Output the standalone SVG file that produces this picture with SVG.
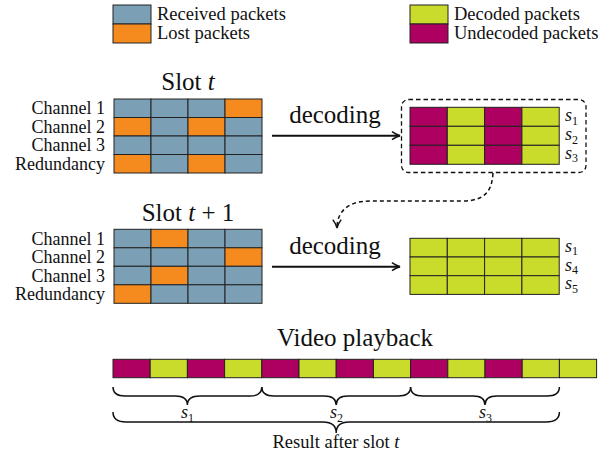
<svg xmlns="http://www.w3.org/2000/svg" width="608" height="455" viewBox="0 0 608 455">
  <style>
    text { fill: #111; }
    .lbl { font-size: 18.5px; }
    .big { font-size: 25px; }
    .ch { font-size: 18px; text-anchor: end; }
    .s { font-size: 18px; font-style: italic; }
    .sub { font-size: 12px; font-style: normal; }
    .it { font-style: italic; }
    .rx { fill: #7ba0b5; }
    .lo { fill: #f58a1f; }
    .de { fill: #cadc2b; }
    .un { fill: #ae0060; }
    .cell { stroke: #222; stroke-width: 1; }
    .arrow { fill: none; stroke: #111; stroke-width: 2; }
    .brace { fill: none; stroke: #111; stroke-width: 1.5; }
  </style>
  <defs>
    <marker id="head" viewBox="0 0 10 10" refX="9" refY="5" markerWidth="5" markerHeight="5" orient="auto" markerUnits="strokeWidth">
      <path d="M1,1 Q5,4 9,5 Q5,6 1,9" fill="none" stroke="#111" stroke-width="1.6"/>
    </marker>
    <marker id="headd" viewBox="0 0 10 10" refX="9" refY="5" markerWidth="7" markerHeight="7" orient="auto" markerUnits="strokeWidth">
      <path d="M1,1 Q5,4 9,5 Q5,6 1,9" fill="none" stroke="#111" stroke-width="1.4"/>
    </marker>
  </defs>

  <g font-family="'Liberation Serif', 'Times New Roman', serif">
  <!-- legend -->
  <g id="legend">
    <rect class="rx cell" x="113" y="5" width="38" height="19"/>
    <rect class="lo cell" x="113" y="24" width="38" height="19"/>
    <text class="lbl" x="157" y="20">Received packets</text>
    <text class="lbl" x="157" y="38.5">Lost packets</text>
    <rect class="de cell" x="410" y="5" width="38" height="19"/>
    <rect class="un cell" x="410" y="24" width="38" height="19"/>
    <text class="lbl" x="454" y="20">Decoded packets</text>
    <text class="lbl" x="454" y="38.5">Undecoded packets</text>
  </g>

  <!-- slot t -->
  <g id="slot-t">
    <text class="big" x="188" y="90" text-anchor="middle">Slot <tspan class="it">t</tspan></text>
    <text class="ch" x="105" y="114">Channel 1</text>
    <text class="ch" x="105" y="132.5">Channel 2</text>
    <text class="ch" x="105" y="151">Channel 3</text>
    <text class="ch" x="105" y="169.5">Redundancy</text>
    <rect class="rx cell" x="114" y="99" width="37" height="18.5"/>
    <rect class="rx cell" x="151" y="99" width="37" height="18.5"/>
    <rect class="rx cell" x="188" y="99" width="37" height="18.5"/>
    <rect class="lo cell" x="225" y="99" width="37" height="18.5"/>
    <rect class="lo cell" x="114" y="117.5" width="37" height="18.5"/>
    <rect class="rx cell" x="151" y="117.5" width="37" height="18.5"/>
    <rect class="lo cell" x="188" y="117.5" width="37" height="18.5"/>
    <rect class="rx cell" x="225" y="117.5" width="37" height="18.5"/>
    <rect class="rx cell" x="114" y="136" width="37" height="18.5"/>
    <rect class="rx cell" x="151" y="136" width="37" height="18.5"/>
    <rect class="rx cell" x="188" y="136" width="37" height="18.5"/>
    <rect class="rx cell" x="225" y="136" width="37" height="18.5"/>
    <rect class="lo cell" x="114" y="154.5" width="37" height="18.5"/>
    <rect class="rx cell" x="151" y="154.5" width="37" height="18.5"/>
    <rect class="lo cell" x="188" y="154.5" width="37" height="18.5"/>
    <rect class="rx cell" x="225" y="154.5" width="37" height="18.5"/>
  </g>

  <!-- decoded after slot t -->
  <g id="decoded-t">
    <rect x="401.5" y="99.5" width="184.5" height="73" rx="7" fill="none" stroke="#111" stroke-width="1.3" stroke-dasharray="4.5 3"/>
    <rect class="un cell" x="410" y="107.3" width="37.3" height="19"/>
    <rect class="de cell" x="447.3" y="107.3" width="37.3" height="19"/>
    <rect class="un cell" x="484.6" y="107.3" width="37.3" height="19"/>
    <rect class="de cell" x="521.9" y="107.3" width="37.3" height="19"/>
    <rect class="un cell" x="410" y="126.3" width="37.3" height="19"/>
    <rect class="de cell" x="447.3" y="126.3" width="37.3" height="19"/>
    <rect class="un cell" x="484.6" y="126.3" width="37.3" height="19"/>
    <rect class="de cell" x="521.9" y="126.3" width="37.3" height="19"/>
    <rect class="un cell" x="410" y="145.3" width="37.3" height="19"/>
    <rect class="de cell" x="447.3" y="145.3" width="37.3" height="19"/>
    <rect class="un cell" x="484.6" y="145.3" width="37.3" height="19"/>
    <rect class="de cell" x="521.9" y="145.3" width="37.3" height="19"/>
    <text class="s" x="565" y="121">s<tspan class="sub" dy="3.5">1</tspan></text>
    <text class="s" x="565" y="140">s<tspan class="sub" dy="3.5">2</tspan></text>
    <text class="s" x="565" y="158.5">s<tspan class="sub" dy="3.5">3</tspan></text>
  </g>

  <!-- slot t+1 -->
  <g id="slot-t1">
    <text class="big" x="188" y="221" text-anchor="middle">Slot <tspan class="it">t</tspan> + 1</text>
    <text class="ch" x="105" y="244.5">Channel 1</text>
    <text class="ch" x="105" y="263">Channel 2</text>
    <text class="ch" x="105" y="281.5">Channel 3</text>
    <text class="ch" x="105" y="300">Redundancy</text>
    <rect class="rx cell" x="114" y="229.3" width="37" height="18.5"/>
    <rect class="lo cell" x="151" y="229.3" width="37" height="18.5"/>
    <rect class="rx cell" x="188" y="229.3" width="37" height="18.5"/>
    <rect class="rx cell" x="225" y="229.3" width="37" height="18.5"/>
    <rect class="rx cell" x="114" y="247.8" width="37" height="18.5"/>
    <rect class="rx cell" x="151" y="247.8" width="37" height="18.5"/>
    <rect class="rx cell" x="188" y="247.8" width="37" height="18.5"/>
    <rect class="lo cell" x="225" y="247.8" width="37" height="18.5"/>
    <rect class="rx cell" x="114" y="266.3" width="37" height="18.5"/>
    <rect class="lo cell" x="151" y="266.3" width="37" height="18.5"/>
    <rect class="rx cell" x="188" y="266.3" width="37" height="18.5"/>
    <rect class="rx cell" x="225" y="266.3" width="37" height="18.5"/>
    <rect class="lo cell" x="114" y="284.8" width="37" height="18.5"/>
    <rect class="rx cell" x="151" y="284.8" width="37" height="18.5"/>
    <rect class="rx cell" x="188" y="284.8" width="37" height="18.5"/>
    <rect class="rx cell" x="225" y="284.8" width="37" height="18.5"/>
  </g>

  <!-- decoded after slot t+1 -->
  <g id="decoded-t1">
    <rect class="de cell" x="410" y="238.3" width="37.3" height="18.7"/>
    <rect class="de cell" x="447.3" y="238.3" width="37.3" height="18.7"/>
    <rect class="de cell" x="484.6" y="238.3" width="37.3" height="18.7"/>
    <rect class="de cell" x="521.9" y="238.3" width="37.3" height="18.7"/>
    <rect class="de cell" x="410" y="257" width="37.3" height="18.7"/>
    <rect class="de cell" x="447.3" y="257" width="37.3" height="18.7"/>
    <rect class="de cell" x="484.6" y="257" width="37.3" height="18.7"/>
    <rect class="de cell" x="521.9" y="257" width="37.3" height="18.7"/>
    <rect class="de cell" x="410" y="275.7" width="37.3" height="18.7"/>
    <rect class="de cell" x="447.3" y="275.7" width="37.3" height="18.7"/>
    <rect class="de cell" x="484.6" y="275.7" width="37.3" height="18.7"/>
    <rect class="de cell" x="521.9" y="275.7" width="37.3" height="18.7"/>
    <text class="s" x="565" y="251.5">s<tspan class="sub" dy="3.5">1</tspan></text>
    <text class="s" x="565" y="270.5">s<tspan class="sub" dy="3.5">4</tspan></text>
    <text class="s" x="565" y="289">s<tspan class="sub" dy="3.5">5</tspan></text>
  </g>

  <!-- video playback -->
  <g id="playback">
    <text class="big" x="355" y="346" text-anchor="middle">Video playback</text>
    <rect class="un cell" x="113" y="359.3" width="37.2" height="18.4"/>
    <rect class="de cell" x="150.2" y="359.3" width="37.2" height="18.4"/>
    <rect class="un cell" x="187.4" y="359.3" width="37.2" height="18.4"/>
    <rect class="de cell" x="224.6" y="359.3" width="37.2" height="18.4"/>
    <rect class="un cell" x="261.8" y="359.3" width="37.2" height="18.4"/>
    <rect class="de cell" x="299" y="359.3" width="37.2" height="18.4"/>
    <rect class="un cell" x="336.2" y="359.3" width="37.2" height="18.4"/>
    <rect class="de cell" x="373.4" y="359.3" width="37.2" height="18.4"/>
    <rect class="un cell" x="410.6" y="359.3" width="37.2" height="18.4"/>
    <rect class="de cell" x="447.8" y="359.3" width="37.2" height="18.4"/>
    <rect class="un cell" x="485" y="359.3" width="37.2" height="18.4"/>
    <rect class="de cell" x="522.2" y="359.3" width="37.2" height="18.4"/>
    <rect class="de cell" x="559.4" y="359.3" width="37.2" height="18.4"/>
  </g>

  <!-- braces under the playback bar -->
  <g id="braces">
    <path class="brace" d="M113,387 Q113,396 125,396 L175,396 Q187.4,396 187.4,405 Q187.4,396 200,396 L250,396 Q261.8,396 261.8,387"/>
    <path class="brace" d="M261.8,387 Q261.8,396 274,396 L324,396 Q336.2,396 336.2,405 Q336.2,396 348,396 L398,396 Q410.6,396 410.6,387"/>
    <path class="brace" d="M410.6,387 Q410.6,396 423,396 L473,396 Q485,396 485,405 Q485,396 497,396 L547,396 Q559.4,396 559.4,387"/>
    <text class="s" x="181" y="418">s<tspan class="sub" dy="3.5">1</tspan></text>
    <text class="s" x="330" y="418">s<tspan class="sub" dy="3.5">2</tspan></text>
    <text class="s" x="479" y="418">s<tspan class="sub" dy="3.5">3</tspan></text>
    <path class="brace" d="M113,412 Q113,422 126,422 L323,422 Q336.2,422 336.2,433 Q336.2,422 349,422 L546,422 Q559.4,422 559.4,412"/>
    <text class="lbl" x="336" y="448" text-anchor="middle">Result after slot <tspan class="it">t</tspan></text>
  </g>

  <!-- connectors -->
  <g id="connectors">
    <text class="big" x="335" y="123" text-anchor="middle">decoding</text>
    <line class="arrow" x1="272" y1="135.7" x2="400" y2="135.7" marker-end="url(#head)"/>
    <text class="big" x="335" y="254" text-anchor="middle">decoding</text>
    <line class="arrow" x1="272" y1="266.7" x2="400" y2="266.7" marker-end="url(#head)"/>
    <path d="M493,173 C492,190 486,201 462,201 L370,201 C350,201 337,210 337,228" fill="none" stroke="#111" stroke-width="1.5" stroke-dasharray="4 3" marker-end="url(#headd)"/>
  </g>
  </g>
</svg>
